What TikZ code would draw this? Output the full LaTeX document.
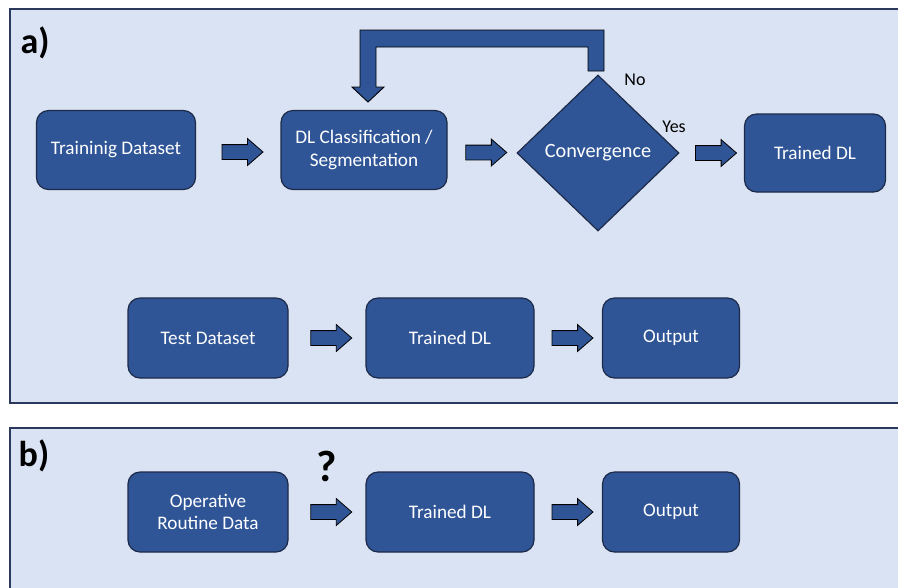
\documentclass[tikz,border=0pt]{standalone}
\usepackage{fontspec}
\setmainfont{Carlito}
\usetikzlibrary{shapes.geometric,shapes.arrows,calc}
\definecolor{PanelFill}{HTML}{DAE3F3}
\definecolor{PanelLine}{HTML}{2B3A5C}
\definecolor{BoxBlue}{HTML}{2F5597}
\definecolor{BoxLine}{HTML}{1C2A48}
\tikzset{
  panel/.style={draw=PanelLine, fill=PanelFill, line width=1.1pt},
  box/.style={draw=BoxLine, fill=BoxBlue, rounded corners=9pt, text=white,
              align=center, line width=0.9pt, inner sep=2pt,
              font=\fontsize{14.4}{17}\selectfont},
  decision/.style={diamond, draw=BoxLine, fill=BoxBlue, text=white,
                   line width=0.9pt, inner sep=0pt, aspect=1,
                   font=\fontsize{15.2}{17}\selectfont},
  blockarrow/.style={single arrow, draw=black, fill=BoxBlue, line width=0.6pt,
                     inner xsep=0pt, inner ysep=5.25pt, minimum height=30.75pt,
                     single arrow head extend=4.5pt, single arrow tip angle=82},
  tag/.style={font=\fontsize{13.5}{15}\selectfont},
  panellabel/.style={font=\fontsize{27}{29}\selectfont\bfseries}
}
\begin{document}
\begin{tikzpicture}[x=0.75pt, y=-0.75pt]
  \useasboundingbox (0,0) rectangle (898,587);
  \clip (0,0) rectangle (898,587);
  % panels
  \draw[panel] (10,9) rectangle (910,403);
  \draw[panel] (10,428) rectangle (910,600);
  \node[panellabel] (lbla) at (35,43) {a)};
  \node[panellabel] (lblb) at (34,456) {b)};

  % a) training
  \node[box, minimum width=119.25pt, minimum height=59.25pt] (train) at (116,150) {Traininig Dataset};
  \node[box, minimum width=124.5pt, minimum height=59.25pt] (dlcls) at (364,150) {DL Classification /\\Segmentation};
  \node[decision, minimum width=121.5pt, minimum height=117pt] (conv) at (598,153) {Convergence};
  \node[box, minimum width=105.75pt, minimum height=58.5pt] (dltop) at (815,153) {Trained DL};
  \node[blockarrow] (a1) at ($(train.east)!0.5!(dlcls.west)+(0,2)$) {};
  \node[blockarrow] (a2) at ($(dlcls.east)!0.5!(conv.west)+(0,1)$) {};
  \node[blockarrow] (a3) at ($(conv.east)!0.5!(dltop.west)$) {};
  \node[tag] (no) at (635,80) {No};
  \node[tag] (yes) at (674,127) {Yes};
  % loop back
  \draw[fill=BoxBlue, draw=black, line width=0.7pt]
    (588,71) -- (588,47) -- (376,47) -- (376,87) -- (384,87) -- (368,102)
    -- (352,87) -- (360,87) -- (360,30) -- (604,30) -- (604,71) -- cycle;

  % a) testing
  \node[box, minimum width=120pt, minimum height=60pt] (test) at (208,338) {Test Dataset};
  \node[box, minimum width=126pt, minimum height=60pt] (dlmid) at (450,338) {Trained DL};
  \node[box, minimum width=102.75pt, minimum height=60pt] (outmid) at (671,338) {Output};
  \node[blockarrow] (m1) at ($(test.east)!0.5!(dlmid.west)$) {};
  \node[blockarrow] (m2) at ($(dlmid.east)!0.5!(outmid.west)$) {};

  % b) routine
  \node[box, minimum width=120pt, minimum height=60pt] (oper) at (208,512) {Operative\\Routine Data};
  \node[box, minimum width=126pt, minimum height=60pt] (dlbot) at (450,512) {Trained DL};
  \node[box, minimum width=102.75pt, minimum height=60pt] (outbot) at (671,512) {Output};
  \node[blockarrow] (b1) at ($(oper.east)!0.5!(dlbot.west)$) {};
  \node[blockarrow] (b2) at ($(dlbot.east)!0.5!(outbot.west)$) {};
  \node[font=\fontsize{33}{35}\selectfont\bfseries] (ask) at (327,466) {?};
\end{tikzpicture}
\end{document}
